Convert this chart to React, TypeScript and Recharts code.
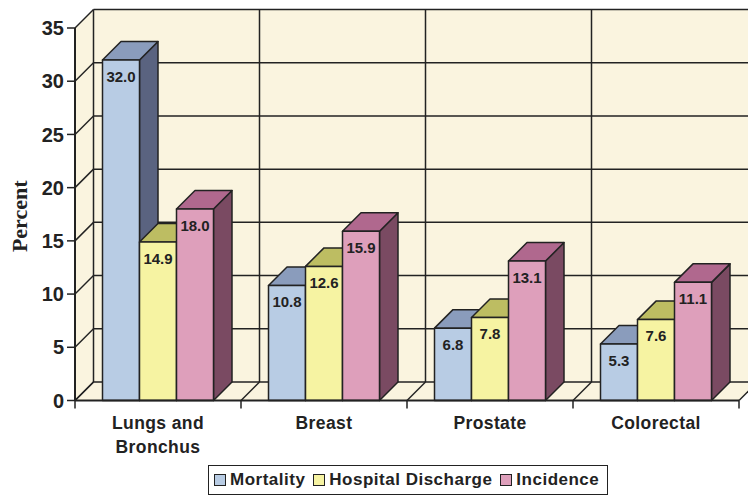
import { BarChart, Bar, XAxis, YAxis, CartesianGrid, LabelList, Legend } from 'recharts';

const categories = ['Lungs and\nBronchus', 'Breast', 'Prostate', 'Colorectal'];
const mortality = [32.0, 10.8, 6.8, 5.3];
const hospitalDischarge = [14.9, 12.6, 7.8, 7.6];
const incidence = [18.0, 15.9, 13.1, 11.1];
const yTicks = [0, 5, 10, 15, 20, 25, 30, 35];

const data = categories.map((name, i) => ({
  name,
  mortality: mortality[i],
  hospitalDischarge: hospitalDischarge[i],
  incidence: incidence[i],
}));

const DEPTH = 18.5;
const INK = '#222';
const WALL = '#faf4df';
const FONT = '"Liberation Sans", Arial, sans-serif';

// walls go in with the first grid line of the first grid so all lines land on top
const Walls = ({ x, y, width, height, y1, index }: any) => {
  const b = y + height;
  const r = x + width;
  return (
    <g key={`w-${y1}`}>
      {index === 0 && (
        <g>
          <rect x={x + DEPTH} y={y - DEPTH} width={width} height={height} fill={WALL} />
          <polygon points={`${x},${b} ${x + DEPTH},${b - DEPTH} ${x + DEPTH},${y - DEPTH} ${x},${y}`} fill={WALL} />
          <polygon points={`${x},${b} ${r},${b} ${r + DEPTH},${b - DEPTH} ${x + DEPTH},${b - DEPTH}`} fill={WALL} />
        </g>
      )}
    </g>
  );
};

// each y tick: line on the back wall plus the diagonal down the side wall
const HLine = ({ x1, x2, y1 }: any) => (
  <g key={`h-${y1}`}>
    <line x1={x1} y1={y1} x2={x1 + DEPTH} y2={y1 - DEPTH} stroke={INK} strokeWidth={1.5} />
    <line x1={x1 + DEPTH} y1={y1 - DEPTH} x2={x2 + DEPTH} y2={y1 - DEPTH} stroke={INK} strokeWidth={1.5} />
  </g>
);

// each category edge: back wall upright, floor diagonal and the axis tick
const VLine = ({ x1, y1, y2 }: any) => (
  <g key={`v-${x1}`}>
    <line x1={x1 + DEPTH} y1={y1 - DEPTH} x2={x1 + DEPTH} y2={y2 - DEPTH} stroke={INK} strokeWidth={1.5} />
    <line x1={x1} y1={y2} x2={x1 + DEPTH} y2={y2 - DEPTH} stroke={INK} strokeWidth={1.5} />
    <line x1={x1} y1={y2} x2={x1} y2={y2 + 8} stroke={INK} strokeWidth={1.5} />
  </g>
);

const box3d = (front: string, top: string, side: string) => ({ x, y, width, height }: any) => {
  const r = x + width;
  const b = y + height;
  return (
    <g stroke={INK} strokeWidth={1.5} strokeLinejoin="round">
      <polygon points={`${r},${y} ${r + DEPTH},${y - DEPTH} ${r + DEPTH},${b - DEPTH} ${r},${b}`} fill={side} />
      <polygon points={`${x},${y} ${x + DEPTH},${y - DEPTH} ${r + DEPTH},${y - DEPTH} ${r},${y}`} fill={top} />
      <rect x={x} y={y} width={width} height={height} fill={front} />
    </g>
  );
};

const CategoryTick = ({ x, y, payload }: any) => (
  <text x={x} y={y} textAnchor="middle" fontFamily={FONT} fontWeight="bold" fontSize={17.5} fill={INK} letterSpacing={0.4}>
    {String(payload.value).split('\n').map((line, i) => (
      <tspan key={line} x={x} dy={i === 0 ? 20 : 24}>{line}</tspan>
    ))}
  </text>
);

const LegendBox = ({ payload }: any) => (
  <div style={{ display: 'flex', alignItems: 'center', height: 30, boxSizing: 'border-box', border: `1.5px solid ${INK}`, paddingLeft: 5, background: '#fff', fontFamily: FONT, fontWeight: 'bold', fontSize: 17, letterSpacing: 0.5, color: INK, whiteSpace: 'nowrap' }}>
    {payload.map((p: any) => (
      <span key={p.value} style={{ display: 'flex', alignItems: 'center', marginRight: 8 }}>
        <span style={{ display: 'inline-block', boxSizing: 'border-box', width: 12, height: 12, marginRight: 4, background: p.color, border: `1.5px solid ${INK}` }} />
        {p.value}
      </span>
    ))}
  </div>
);

const labelStyle = { fontFamily: FONT, fontWeight: 'bold', fontSize: 15, fill: INK };
const oneDecimal = (v: number) => v.toFixed(1);

export default function App() {
  const gridX = ({ offset }: any) =>
    [...categories.map((_, i) => i), categories.length].map((i) => offset.left + (i * offset.width) / categories.length);
  return (
    <div style={{ position: 'absolute', left: 0, top: 0, width: 748, height: 495, overflow: 'hidden', background: '#fff' }}>
      <BarChart
        width={800}
        height={495}
        data={data}
        margin={{ top: 28, right: 61, bottom: 34.5, left: 0 }}
        barCategoryGap={27.5}
        barGap={0}
      >
        <CartesianGrid horizontal={Walls} vertical={false} />
        <CartesianGrid horizontal={HLine} vertical={VLine} verticalCoordinatesGenerator={gridX} />
        <XAxis dataKey="name" height={60} interval={0} tickLine={false} axisLine={{ stroke: INK, strokeWidth: 2 }} tick={<CategoryTick />} />
        <YAxis
          width={75}
          domain={[0, 35]}
          ticks={yTicks}
          tickSize={8}
          tickMargin={3}
          axisLine={{ stroke: INK, strokeWidth: 2 }}
          tickLine={{ stroke: INK, strokeWidth: 1.5 }}
          tick={{ fontFamily: FONT, fontWeight: 'bold', fontSize: 20, fill: INK }}
          label={{ value: 'Percent', angle: -90, position: 'insideLeft', offset: 19, dy: 2, style: { fontFamily: '"Liberation Serif", serif', fontWeight: 'bold', fontSize: 22, fill: INK, textAnchor: 'middle' } }}
        />
        <Legend
          layout="vertical"
          align="center"
          verticalAlign="middle"
          itemSorter={null}
          wrapperStyle={{ position: 'absolute', left: 208, top: 465, width: 400 }}
          content={<LegendBox />}
        />
        <Bar dataKey="mortality" name="Mortality" fill="#b8cce4" isAnimationActive={false} shape={box3d('#b8cce4', '#8a9cbc', '#5a6380')}>
          <LabelList dataKey="mortality" position="insideTop" offset={11} formatter={oneDecimal} style={labelStyle} />
        </Bar>
        <Bar dataKey="hospitalDischarge" name="Hospital Discharge" fill="#f6f3a2" isAnimationActive={false} shape={box3d('#f6f3a2', '#bdbd62', '#8a8a48')}>
          <LabelList dataKey="hospitalDischarge" position="insideTop" offset={11} formatter={oneDecimal} style={labelStyle} />
        </Bar>
        <Bar dataKey="incidence" name="Incidence" fill="#de9fbb" isAnimationActive={false} shape={box3d('#de9fbb', '#b0688e', '#7a4a62')}>
          <LabelList dataKey="incidence" position="insideTop" offset={11} formatter={oneDecimal} style={labelStyle} />
        </Bar>
      </BarChart>
    </div>
  );
}
